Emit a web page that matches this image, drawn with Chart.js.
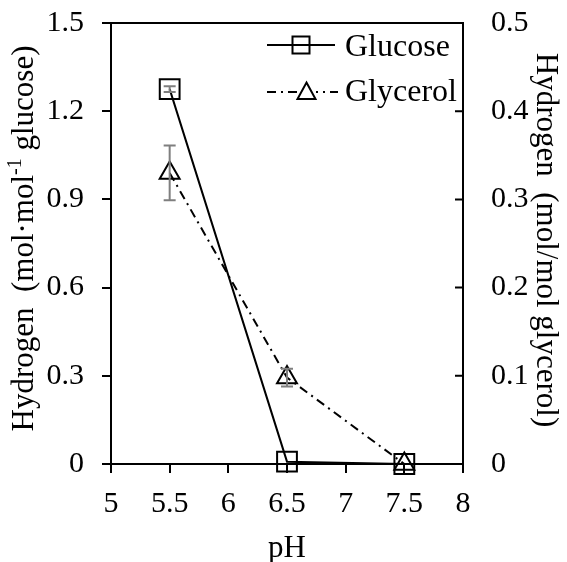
<!DOCTYPE html>
<html>
<head>
<meta charset="utf-8">
<script src="https://cdn.jsdelivr.net/npm/chart.js@4.4.1/dist/chart.umd.min.js"></script>
<style>
  html, body { margin: 0; padding: 0; background: #fff; }
  #wrap { width: 567px; height: 562px; }
</style>
</head>
<body>
<div id="wrap"><canvas id="c" width="567" height="562"></canvas></div>
<script>
// Hydrogen yield versus pH for the two substrates
const phValues    = [5.5, 6.5, 7.5];
const glucoseH2   = [1.275, 0.008, 0];      // mol H2 per mol glucose (left axis)
const glucoseErr  = [0.01, 0, 0];
const glycerolH2  = [0.33, 0.098, 0];       // mol H2 per mol glycerol (right axis)
const glycerolErr = [0.031, 0.01, 0];

const seriesNames = ['Glucose', 'Glycerol'];
const xTicks      = [5, 5.5, 6, 6.5, 7, 7.5, 8];
const leftTicks   = [0, 0.3, 0.6, 0.9, 1.2, 1.5];
const rightTicks  = [0, 0.1, 0.2, 0.3, 0.4, 0.5];

const SERIF = "'Liberation Serif', 'Times New Roman', serif";
const tickFont = { family: SERIF, size: 30 };
// compact line height on the vertical axes keeps the top label from pushing the plot down
const sideTickFont = { family: SERIF, size: 30, lineHeight: 0.2 };

const toPoints = (xs, ys) => xs.map((x, i) => ({ x: x, y: ys[i] }));
const fixedTicks = list => scale => { scale.ticks = list.map(v => ({ value: v })); };

const axisLine = { display: true, color: '#000', width: 2 };
const outerTicks = { drawOnChartArea: false, drawTicks: true, tickLength: 9, color: '#000', lineWidth: 2 };

// error bars, frame top, inward right ticks, axis titles and legend
const decor = {
  id: 'decor',
  afterDatasetsDraw(chart) {
    const ctx = chart.ctx;
    const xs = chart.scales.x;
    const sets = [
      { scale: chart.scales.y,  vals: glucoseH2,  errs: glucoseErr },
      { scale: chart.scales.y2, vals: glycerolH2, errs: glycerolErr }
    ];
    ctx.save();
    ctx.strokeStyle = '#7f7f7f';
    ctx.lineWidth = 2;
    sets.forEach(s => {
      phValues.forEach((ph, i) => {
        const e = s.errs[i];
        if (!e) return;
        const px = xs.getPixelForValue(ph);
        const yHi = s.scale.getPixelForValue(s.vals[i] + e);
        const yLo = s.scale.getPixelForValue(s.vals[i] - e);
        ctx.beginPath();
        ctx.moveTo(px, yHi); ctx.lineTo(px, yLo);
        ctx.moveTo(px - 6, yHi); ctx.lineTo(px + 6, yHi);
        ctx.moveTo(px - 6, yLo); ctx.lineTo(px + 6, yLo);
        ctx.stroke();
      });
    });
    ctx.restore();
  },
  afterDraw(chart) {
    const ctx = chart.ctx;
    const a = chart.chartArea;
    const y2 = chart.scales.y2;
    ctx.save();
    ctx.strokeStyle = '#000';
    ctx.fillStyle = '#000';
    ctx.lineWidth = 2;

    // top edge of the frame
    ctx.beginPath();
    ctx.moveTo(a.left, a.top); ctx.lineTo(a.right + 1, a.top);
    ctx.stroke();

    // right axis tick marks point into the plot
    ctx.beginPath();
    rightTicks.forEach(v => {
      const py = y2.getPixelForValue(v);
      ctx.moveTo(a.right - 8, py); ctx.lineTo(a.right, py);
    });
    ctx.stroke();

    // x title
    ctx.font = '31px ' + SERIF;
    ctx.textAlign = 'center';
    ctx.textBaseline = 'alphabetic';
    ctx.fillText('pH', (a.left + a.right) / 2, 557);

    // left title with superscript
    ctx.save();
    ctx.translate(33, 238.5);
    ctx.rotate(-Math.PI / 2);
    ctx.textAlign = 'left';
    const big = '31px ' + SERIF, small = '20px ' + SERIF;
    const p1 = 'Hydrogen  (mol\u00b7mol', p2 = '-1', p3 = ' glucose)';
    ctx.font = big;  const w1 = ctx.measureText(p1).width, w3 = ctx.measureText(p3).width;
    ctx.font = small; const w2 = ctx.measureText(p2).width;
    let cx = -(w1 + w2 + w3) / 2;
    ctx.font = big;   ctx.fillText(p1, cx, 0); cx += w1;
    ctx.font = small; ctx.fillText(p2, cx, -12); cx += w2;
    ctx.font = big;   ctx.fillText(p3, cx, 0);
    ctx.restore();

    // right title
    ctx.save();
    ctx.translate(537, 240);
    ctx.rotate(Math.PI / 2);
    ctx.font = big;
    ctx.textAlign = 'center';
    ctx.fillText('Hydrogen  (mol/mol glycerol)', 0, 0);
    ctx.restore();

    // legend
    ctx.font = '32px ' + SERIF;
    ctx.textAlign = 'left';
    // glucose row
    ctx.setLineDash([]);
    ctx.beginPath();
    ctx.moveTo(267, 45); ctx.lineTo(335, 45);
    ctx.stroke();
    ctx.strokeRect(292.5, 36.5, 17, 17);
    ctx.fillText(seriesNames[0], 345, 56);
    // glycerol row
    ctx.setLineDash([9, 5, 2, 5]);
    ctx.beginPath();
    ctx.moveTo(267, 92); ctx.lineTo(297, 92);
    ctx.stroke();
    ctx.lineDashOffset = 7;
    ctx.beginPath();
    ctx.moveTo(316, 92); ctx.lineTo(338, 92);
    ctx.stroke();
    ctx.setLineDash([]);
    ctx.beginPath();
    ctx.moveTo(306.5, 82.5); ctx.lineTo(315.5, 99); ctx.lineTo(297.5, 99); ctx.closePath();
    ctx.stroke();
    ctx.fillText(seriesNames[1], 345, 101);
    ctx.restore();
  }
};

new Chart(document.getElementById('c'), {
  type: 'line',
  data: {
    datasets: [
      {
        label: seriesNames[0],
        data: toPoints(phValues, glucoseH2),
        yAxisID: 'y',
        borderColor: '#000',
        borderWidth: 2,
        pointStyle: 'rect',
        pointRadius: 14,
        pointBorderWidth: 2,
        pointBorderColor: '#000',
        pointBackgroundColor: 'rgba(0,0,0,0)',
        tension: 0,
        clip: false
      },
      {
        label: seriesNames[1],
        data: toPoints(phValues, glycerolH2),
        yAxisID: 'y2',
        borderColor: '#000',
        borderWidth: 2,
        borderDash: [9, 5, 2, 5],
        pointStyle: 'triangle',
        pointRadius: 11.5,
        pointBorderWidth: 2,
        pointBorderColor: '#000',
        pointBackgroundColor: 'rgba(0,0,0,0)',
        tension: 0,
        clip: false
      }
    ]
  },
  options: {
    responsive: false,
    animation: false,
    events: [],
    layout: { autoPadding: false, padding: { top: 18, left: 0, right: 0, bottom: 0 } },
    plugins: { legend: { display: false }, tooltip: { enabled: false } },
    scales: {
      x: {
        type: 'linear',
        min: 5, max: 8,
        afterBuildTicks: fixedTicks(xTicks),
        afterFit: s => { s.height = 98; },
        border: axisLine,
        grid: outerTicks,
        ticks: { font: tickFont, color: '#000', padding: 13, maxRotation: 0, autoSkip: false,
                 callback: v => String(v) }
      },
      y: {
        position: 'left',
        min: 0, max: 1.5,
        afterBuildTicks: fixedTicks(leftTicks),
        afterFit: s => { s.width = 111; },
        border: axisLine,
        grid: outerTicks,
        ticks: { font: sideTickFont, color: '#000', padding: 18, autoSkip: false,
                 callback: v => String(v) }
      },
      y2: {
        position: 'right',
        min: 0, max: 0.5,
        afterBuildTicks: fixedTicks(rightTicks),
        afterFit: s => { s.width = 104; },
        border: axisLine,
        grid: { display: false },
        ticks: { font: sideTickFont, color: '#000', padding: 20, autoSkip: false,
                 callback: v => String(v) }
      }
    }
  },
  plugins: [decor]
});
</script>
</body>
</html>
